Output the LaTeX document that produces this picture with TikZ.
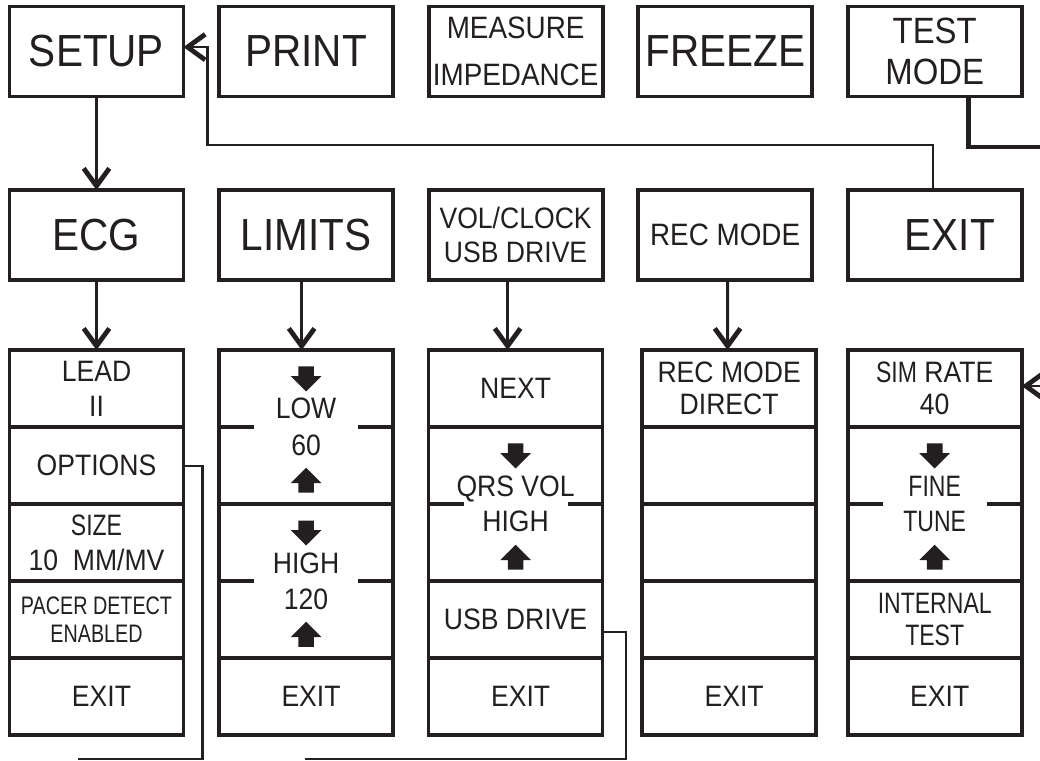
\documentclass[tikz,border=0pt]{standalone}
\usepackage{fontspec}
\setmainfont[FakeStretch=0.9]{Liberation Sans}
\newfontfamily\narrowfont[FakeStretch=0.78]{Liberation Sans}
\usepackage{xcolor}
\usepackage{tikz}
\usetikzlibrary{shapes,arrows.meta,positioning,calc}
\definecolor{ink}{RGB}{35,31,32}

\begin{document}
\begin{tikzpicture}[x=0.025cm, y=-0.025cm, color=ink,
  menubox/.style={rectangle, draw, line width=2.8pt, outer sep=0pt, minimum width=4.35cm, minimum height=2.25cm, align=center, inner sep=0pt},
  cellbox/.style={rectangle, draw, line width=2.6pt, outer sep=0pt, minimum width=4.35cm, minimum height=1.925cm, align=center, inner sep=0pt, font=\fontsize{21}{25}\selectfont},
  twocell/.style={cellbox, minimum height=3.85cm},
  bigtxt/.style={font=\fontsize{32}{38}\selectfont},
  dnarrow/.style={single arrow, fill, draw=none, shape border rotate=270, minimum height=0.625cm, minimum width=0.75cm, single arrow head extend=0.1875cm, inner sep=0.1875cm},
  uparrow/.style={dnarrow, shape border rotate=90},
  link/.style={line width=2.1pt, -{Straight Barb[length=4.4mm,width=6.4mm,line width=3.4pt 0]}}]
\useasboundingbox (0,0) rectangle (1040,761);
% top menu
\node[menubox, bigtxt] (s1) at (96.5,51.5) {SETUP};
\node[menubox, bigtxt, right=0.8875cm of s1] (s2) {PRINT};
\node[menubox, font=\fontsize{22}{33}\selectfont, right=0.8875cm of s2] (s3) {MEASURE\\{\fontsize{22}{33}\selectfont IMPEDANCE}};
\node[menubox, bigtxt, right=0.8875cm of s3] (s4) {FREEZE};
\node[menubox, font=\fontsize{26}{29}\selectfont, right=0.8875cm of s4] (s5) {TEST\\MODE};
% setup menu
\node[menubox, bigtxt, below=2.3375cm of s1] (m1) {ECG};
\node[menubox, bigtxt, right=0.8875cm of m1] (m2) {LIMITS};
\node[menubox, font=\fontsize{21}{24}\selectfont, right=0.8875cm of m2] (m3) {VOL/CLOCK\\USB DRIVE};
\node[menubox, font=\fontsize{22}{25}\selectfont, right=0.8875cm of m3] (m4) {REC MODE};
\node[menubox, bigtxt, right=0.8875cm of m4] (m5) {\hspace{0.75cm}EXIT};
% ECG column
\node[cellbox, below=1.75cm of m1] (c11) {LEAD\\II};
\node[cellbox, below=0pt of c11] (c12) {OPTIONS};
\node[cellbox, below=0pt of c12] (c13) {{\narrowfont SIZE}\\10~~MM/MV};
\node[cellbox, font=\narrowfont\fontsize{18}{20}\selectfont, below=0pt of c13] (c14) {PACER DETECT\\ENABLED};
\node[cellbox, below=0pt of c14] (c15) {\hspace{0.25cm}EXIT};
% LIMITS column
\node[twocell, font=\fontsize{21}{26}\selectfont, below=1.75cm of m2] (c21) {LOW\\60};
\node[twocell, font=\fontsize{21}{26}\selectfont, below=0pt of c21] (c22) {HIGH\\120};
\node[cellbox, below=0pt of c22] (c23) {\hspace{0.25cm}EXIT};
% VOL/CLOCK column
\node[cellbox, below=1.75cm of m3] (c31) {NEXT};
\node[twocell, below=0pt of c31] (c32) {QRS VOL\\HIGH};
\node[cellbox, below=0pt of c32] (c33) {USB DRIVE};
\node[cellbox, below=0pt of c33] (c34) {\hspace{0.25cm}EXIT};
% REC MODE column
\node[cellbox, font=\fontsize{21}{23}\selectfont, below=1.75cm of m4, xshift=0.1cm] (c41) {REC MODE\\DIRECT};
\node[cellbox, below=0pt of c41] (c42) {};
\node[cellbox, below=0pt of c42] (c43) {};
\node[cellbox, below=0pt of c43] (c44) {};
\node[cellbox, below=0pt of c44] (c45) {\hspace{0.25cm}EXIT};
% TEST MODE column
\node[cellbox, font=\fontsize{21}{23}\selectfont, below=1.75cm of m5] (c51) {{\narrowfont SIM} RATE\\40};
\node[twocell, below=0pt of c51] (c52) {{\narrowfont FINE}\\{\narrowfont TUNE}};
\node[cellbox, font=\narrowfont\fontsize{21}{23}\selectfont, below=0pt of c52] (c53) {INTERNAL\\TEST};
\node[cellbox, below=0pt of c53] (c54) {\hspace{0.25cm}EXIT};
% split lines
\foreach \c in {c21,c22,c32,c52}
  \draw[line width=2.6pt] (\c.west) -- ++(35,0) (\c.east) -- ++(-35,0);
% up/down keys
\node[dnarrow] (a1) at ([yshift=1.3cm]c21.center) {};
\node[uparrow] (a2) at ([yshift=-1.425cm]c21.center) {};
\node[dnarrow] (a3) at ([yshift=1.3cm]c22.center) {};
\node[uparrow] (a4) at ([yshift=-1.425cm]c22.center) {};
\node[dnarrow] (a5) at ([yshift=1.3cm]c32.center) {};
\node[uparrow] (a6) at ([yshift=-1.425cm]c32.center) {};
\node[dnarrow] (a7) at ([yshift=1.3cm]c52.center) {};
\node[uparrow] (a8) at ([yshift=-1.425cm]c52.center) {};
% connectors
\draw[link] (s1) -- (m1);
\draw[link] (m1) -- (c11);
\draw[link] ([xshift=-0.11cm]m2.south) -- ([xshift=-0.11cm]c21.north);
\draw[link] ([xshift=-0.2cm]m3.south) -- ([xshift=-0.2cm]c31.north);
\draw[link] ([xshift=0.06cm]m4.south) -- ([xshift=-0.04cm]c41.north);
\draw[link, line width=1.9pt] ([xshift=-0.04cm]m5.north) -- ++(0,-45) -| ([xshift=0.6cm,yshift=0.11cm]s1.east) -- ([yshift=0.11cm]s1.east);
\coordinate (e1) at (1040,147);
\draw[line width=3.2pt] ([xshift=0.85cm]s5.south) |- (e1);
\coordinate (e2) at (1046,386);
\draw[link] (e2) -- (e2 -| c51.east);
\coordinate (e3) at (78,759);
\draw[line width=1.5pt] (c12.east) -- ++(19,0) |- (e3);
\coordinate (e4) at (305,759);
\draw[line width=1.5pt] ([yshift=-0.31cm]c33.east) -- ++(23,0) |- (e4);
\end{tikzpicture}
\end{document}
